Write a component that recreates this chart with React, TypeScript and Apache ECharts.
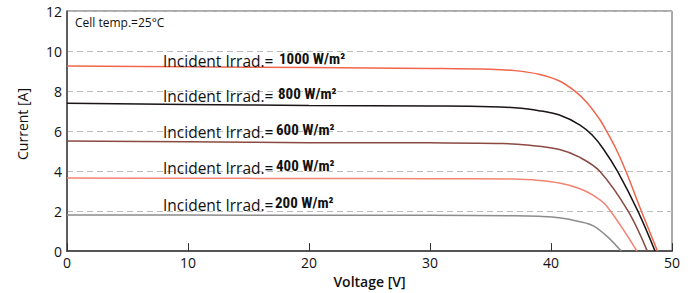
import React, { useEffect, useRef } from "react";
import * as echarts from "echarts";

const xTicks = [0, 10, 20, 30, 40, 50];
const yTicks = [0, 2, 4, 6, 8, 10, 12];

const curve1000: [number, number][] = [
  [0, 9.25], [10, 9.21], [20, 9.17], [30, 9.13], [35, 9.09], [37, 9.02], [39, 8.84],
  [40.7, 8.5], [42, 7.98], [43, 7.4], [44, 6.6], [44.5, 6.1], [45.35, 5.14],
  [46.2, 3.98], [47.4, 2.1], [48.8, 0],
];
const curve800: [number, number][] = [
  [0, 7.39], [10, 7.33], [20, 7.28], [30, 7.25], [35, 7.22], [37, 7.16], [39, 7.02],
  [40.7, 6.8], [42.4, 6.3], [43.4, 5.8], [44.3, 5.13], [45.5, 3.98], [47.2, 1.97], [48.6, 0],
];
const curve600: [number, number][] = [
  [0, 5.5], [10, 5.46], [20, 5.42], [30, 5.41], [36, 5.38], [38, 5.3], [40.7, 5.08],
  [42.4, 4.68], [44.05, 3.98], [46.4, 1.97], [47.96, 0],
];
const curve400: [number, number][] = [
  [0, 3.65], [10, 3.64], [20, 3.63], [30, 3.62], [37, 3.6], [39, 3.53], [40.7, 3.4],
  [42.4, 3.12], [43.5, 2.78], [44.6, 2.25], [47.1, 0],
];
const curve200: [number, number][] = [
  [0, 1.81], [10, 1.8], [20, 1.79], [30, 1.79], [37, 1.77], [39, 1.74], [40.7, 1.67],
  [42.4, 1.47], [43.5, 1.26], [44.7, 0.7], [45.8, 0],
];

const seriesNames = ["1000 W/m²", "800 W/m²", "600 W/m²", "400 W/m²", "200 W/m²"];
const seriesData = [curve1000, curve800, curve600, curve400, curve200];
const seriesColors = ["#f0664c", "#1a1414", "#8a4a42", "#f48474", "#8c8c8c"];
const labelPrefix = "Incident Irrad.=";
const labelY = [61, 96, 132, 168, 205];
const valueX = [279, 278, 276, 276, 275];

const FONT = "'Open Sans', Roboto, sans-serif";
const NARROW = "'Liberation Sans Narrow', 'Roboto Condensed', Roboto, sans-serif";

export default function App() {
  const ref = useRef<HTMLDivElement>(null);
  useEffect(() => {
    document.body.style.margin = "0";
    if (!ref.current) return;
    const chart = echarts.init(ref.current, undefined, { renderer: "svg" });
    const graphics: any[] = [
      {
        type: "text",
        left: 75,
        top: 16,
        style: { text: "Cell temp.=25°C", fontSize: 12, fontFamily: FONT, fill: "#111" },
      },
      {
        type: "text",
        x: 22,
        y: 124,
        rotation: Math.PI / 2,
        style: {
          text: "Current [A]",
          fontSize: 14,
          fontFamily: FONT,
          fill: "#111",
          align: "center",
          verticalAlign: "middle",
        },
      },
    ];
    seriesNames.forEach((n, i) => {
      graphics.push({
        type: "text",
        x: 163,
        y: labelY[i],
        z: 10,
        style: {
          text: labelPrefix,
          fontSize: 15.5,
          fontFamily: FONT,
          fill: "#111",
          verticalAlign: "middle",
        },
      });
      graphics.push({
        type: "text",
        x: valueX[i],
        y: labelY[i] - 2,
        z: 10,
        style: {
          text: n,
          fontSize: 15,
          fontWeight: "bold",
          fontFamily: NARROW,
          fill: "#111",
          verticalAlign: "middle",
        },
      });
    });
    chart.setOption({
      animation: false,
      grid: {
        left: 67,
        right: 21,
        top: 11,
        bottom: 39,
        show: true,
        borderColor: "#555",
        borderWidth: 1,
      },
      xAxis: {
        type: "value",
        min: xTicks[0],
        max: xTicks[xTicks.length - 1],
        interval: 10,
        name: "Voltage [V]",
        nameLocation: "middle",
        nameGap: 21,
        nameTextStyle: { fontSize: 14, fontFamily: FONT, color: "#111", fontWeight: 600 },
        axisLine: { lineStyle: { color: "#555", width: 2 } },
        axisTick: { inside: true, length: 8, lineStyle: { color: "#333" } },
        axisLabel: { fontSize: 14, fontFamily: FONT, color: "#111", margin: 4 },
        splitLine: { show: false },
      },
      yAxis: {
        type: "value",
        min: yTicks[0],
        max: yTicks[yTicks.length - 1],
        interval: 2,
        axisLine: { show: true, lineStyle: { color: "#444", width: 1.5 } },
        axisTick: { show: false },
        axisLabel: { fontSize: 14, fontFamily: FONT, color: "#111", margin: 5 },
        splitLine: { show: true, lineStyle: { color: "#bbb", type: [6, 4], width: 1 } },
      },
      graphic: graphics,
      series: seriesData.map((d, i) => ({
        type: "line",
        name: seriesNames[i],
        data: d,
        showSymbol: false,
        smooth: 0.35,
        lineStyle: { color: seriesColors[i], width: 1.5 },
        z: 3,
      })),
    });
    return () => chart.dispose();
  }, []);
  return <div ref={ref} style={{ width: 693, height: 293 }} />;
}
